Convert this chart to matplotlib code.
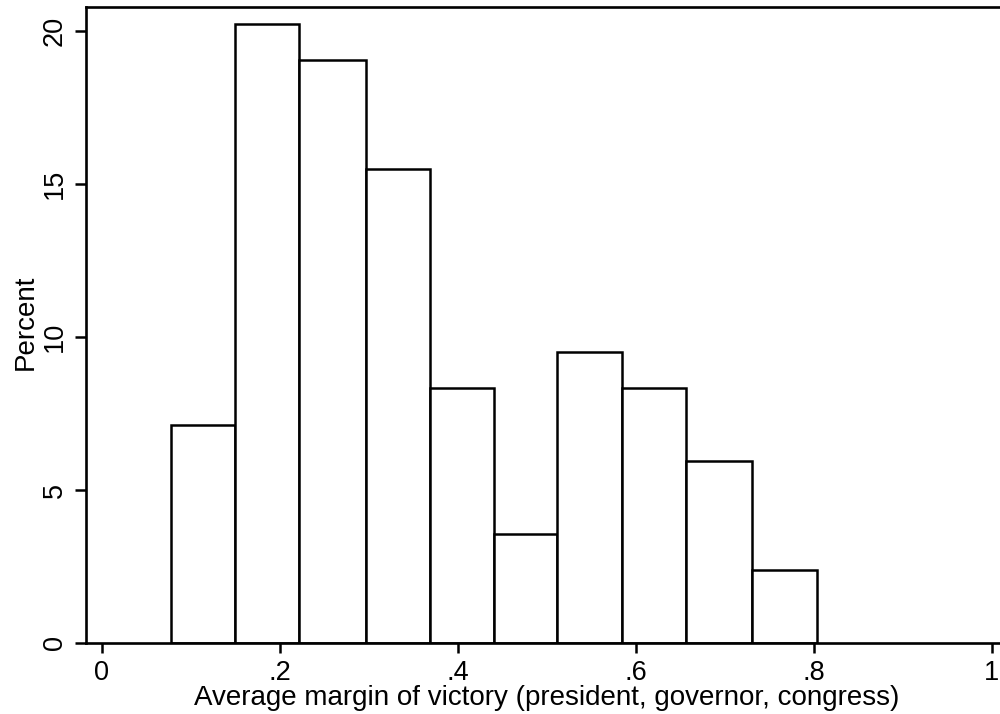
import matplotlib
matplotlib.use("Agg")
import matplotlib.pyplot as plt
import numpy as np

bin_edges = [0.078, 0.150, 0.222, 0.297, 0.369, 0.441, 0.512, 0.584, 0.656, 0.730, 0.803]
percent = [7.14, 20.24, 19.05, 15.48, 8.33, 3.57, 9.52, 8.33, 5.95, 2.38]

xtick_vals = [0, 0.2, 0.4, 0.6, 0.8, 1]
xtick_text = ["0", ".2", ".4", ".6", ".8", "1"]
ytick_vals = [0, 5, 10, 15, 20]

plt.rcParams["font.family"] = ["Liberation Sans", "DejaVu Sans"]

fig = plt.figure(figsize=(10, 7.14), dpi=100)
# axes runs past the right edge of the figure, as in the reference
ax = fig.add_axes([86 / 1000, 1 - 643 / 714, (1004 - 86) / 1000, (643 - 7) / 714])

edges = np.array(bin_edges)
ax.bar(edges[:-1], percent, width=np.diff(edges), align="edge",
       facecolor="white", edgecolor="black", linewidth=1.8)

ax.set_xlim((86 - 101.5) / 890.5, (1004 - 101.5) / 890.5)
ax.set_ylim(0, (643 - 7) / 30.6)

ax.set_xticks(xtick_vals)
ax.set_xticklabels(xtick_text)
ax.set_yticks(ytick_vals)
ax.set_yticklabels([str(v) for v in ytick_vals], rotation=90, va="center")

ax.tick_params(axis="x", length=7.2, width=1.8, pad=5, labelsize=19.5)
ax.tick_params(axis="y", length=8, width=1.8, pad=5, labelsize=19.5)

for s in ["left", "bottom", "top"]:
    ax.spines[s].set_linewidth(1.9)
ax.spines["right"].set_visible(False)

ax.set_xlabel("Average margin of victory (president, governor, congress)", fontsize=20)
ax.xaxis.label.set_va("baseline")
ax.xaxis.set_label_coords(0.5 + 2 / 918, (643 - 705) / 636)

ax.set_ylabel("Percent", fontsize=20)
ax.yaxis.label.set_va("baseline")
ax.yaxis.set_label_coords((33 - 86) / 918, (643 - 322) / 636)

fig.savefig("out.png", dpi=100)
